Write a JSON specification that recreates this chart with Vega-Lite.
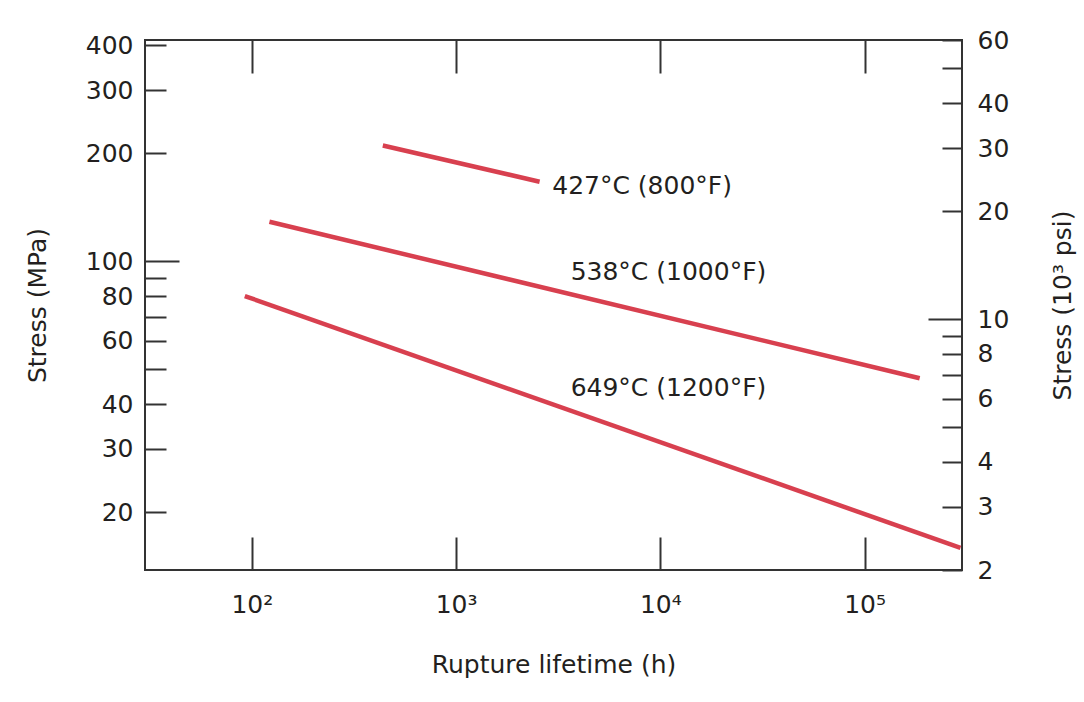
{
  "$schema": "https://vega.github.io/schema/vega-lite/v6.json",
  "width": 817,
  "height": 530,
  "autosize": "none",
  "padding": {"left": 145, "top": 40, "right": 122, "bottom": 132},
  "background": "white",
  "config": {
    "view": {"stroke": "#333333", "strokeWidth": 2},
    "axis": {
      "labelFont": "DejaVu Sans",
      "labelFontSize": 25,
      "labelColor": "#231f20",
      "titleFont": "DejaVu Sans",
      "titleFontSize": 25,
      "titleFontWeight": "normal",
      "titleColor": "#231f20",
      "tickColor": "#333333",
      "tickWidth": 2,
      "domain": false,
      "grid": false
    }
  },
  "datasets": {
    "lines": [
      {"series": "427", "hours": 438, "mpa": 210.2},
      {"series": "427", "hours": 2565, "mpa": 166.6},
      {"series": "538", "hours": 122, "mpa": 128.9},
      {"series": "538", "hours": 186200, "mpa": 47.2},
      {"series": "649", "hours": 92.4, "mpa": 80.0},
      {"series": "649", "hours": 295000, "mpa": 15.9}
    ],
    "labels": [
      {"text": "427°C (800°F)", "hours": 2958, "mpa": 162},
      {"text": "538°C (1000°F)", "hours": 3640, "mpa": 93.4},
      {"text": "649°C (1200°F)", "hours": 3640, "mpa": 44.3}
    ],
    "ksi": [
      {"ksi": 2},
      {"ksi": 60}
    ]
  },
  "layer": [
    {
      "data": {"name": "lines"},
      "mark": {"type": "line", "color": "#d8404f", "strokeWidth": 4.5, "strokeCap": "butt"},
      "encoding": {
        "detail": {"field": "series", "type": "nominal"},
        "x": {
          "field": "hours", "type": "quantitative",
          "scale": {"type": "log", "domain": [30, 300000], "nice": false},
          "axis": {
            "orient": "bottom",
            "values": [100, 1000, 10000, 100000],
            "tickSize": -33,
            "labelPadding": 55,
            "labelExpr": "datum.value == 100 ? '10²' : datum.value == 1000 ? '10³' : datum.value == 10000 ? '10⁴' : '10⁵'",
            "title": "Rupture lifetime (h)",
            "titlePadding": 35
          }
        },
        "y": {
          "field": "mpa", "type": "quantitative",
          "scale": {"type": "log", "domain": [13.79, 413.7], "nice": false},
          "axis": {
            "orient": "left",
            "values": [20, 30, 40, 50, 60, 70, 80, 90, 200, 300, 400],
            "tickSize": -21,
            "labelPadding": 33,
            "labelExpr": "datum.value == 50 || datum.value == 70 || datum.value == 90 ? '' : '' + datum.value",
            "title": "Stress (MPa)",
            "titlePadding": 35
          }
        }
      }
    },
    {
      "data": {"name": "labels"},
      "mark": {"type": "text", "align": "left", "baseline": "middle", "font": "DejaVu Sans", "fontSize": 25, "color": "#231f20"},
      "encoding": {
        "text": {"field": "text", "type": "nominal"},
        "x": {
          "field": "hours", "type": "quantitative",
          "scale": {"type": "log", "domain": [30, 300000], "nice": false},
          "axis": {
            "orient": "top",
            "values": [100, 1000, 10000, 100000],
            "tickSize": -33,
            "labels": false,
            "title": null
          }
        },
        "y": {
          "field": "mpa", "type": "quantitative",
          "scale": {"type": "log", "domain": [13.79, 413.7], "nice": false},
          "axis": {
            "orient": "left",
            "values": [100],
            "tickSize": -34,
            "labelPadding": 46,
            "labelExpr": "'' + datum.value",
            "title": null
          }
        }
      }
    },
    {
      "data": {"name": "ksi"},
      "mark": {"type": "point", "opacity": 0},
      "encoding": {
        "y": {
          "field": "ksi", "type": "quantitative",
          "scale": {"type": "log", "domain": [2, 60], "nice": false},
          "axis": {
            "orient": "right",
            "values": [2, 3, 4, 5, 6, 7, 8, 9, 20, 30, 40, 50, 60],
            "tickSize": -20,
            "labelPadding": 35,
            "labelExpr": "datum.value == 5 || datum.value == 7 || datum.value == 9 || datum.value == 50 ? '' : '' + datum.value",
            "title": "Stress (10³ psi)",
            "titleAngle": 270,
            "titlePadding": 67
          }
        }
      }
    },
    {
      "data": {"name": "ksi"},
      "mark": {"type": "point", "opacity": 0},
      "encoding": {
        "y": {
          "field": "ksi", "type": "quantitative",
          "scale": {"type": "log", "domain": [2, 60], "nice": false},
          "axis": {
            "orient": "right",
            "values": [10],
            "tickSize": -34,
            "labelPadding": 49,
            "labelExpr": "'' + datum.value",
            "title": null
          }
        }
      }
    }
  ],
  "resolve": {
    "scale": {"y": "independent"},
    "axis": {"x": "independent", "y": "independent"}
  }
}
